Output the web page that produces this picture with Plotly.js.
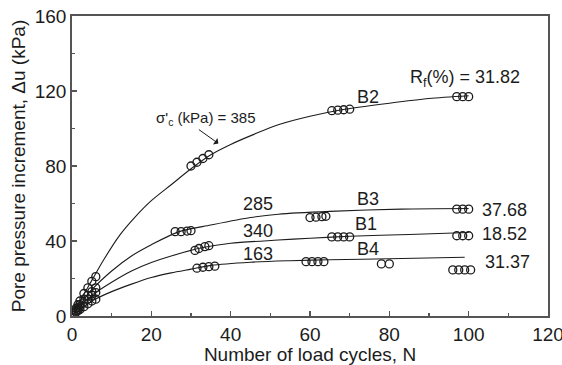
<!DOCTYPE html>
<html>
<head>
<meta charset="utf-8">
<script src="https://cdn.plot.ly/plotly-3.0.1.min.js"></script>
<style>
  html, body { margin: 0; padding: 0; background: #fff; }
  #chart { width: 562px; height: 365px; }
</style>
</head>
<body>
<div id="chart"></div>
<script>
// Pore pressure build-up under cyclic loading, tests B1-B4.

// Measured points (number of cycles, pore pressure increment in kPa)
const b2PointsN  = [1, 1.5, 2, 3, 4, 5, 6, 30, 31.5, 33, 34.5, 65.5, 67, 68.5, 70, 97, 98.5, 100];
const b2PointsDu = [4, 6, 8, 12, 15, 18.5, 21, 80, 82, 84, 86, 109.5, 109.8, 110, 110.3, 117, 117, 117];
const b3PointsN  = [1, 1.5, 2, 3, 4, 5, 6, 26, 27.5, 29, 30, 60, 61.5, 63, 64, 97, 98.5, 100];
const b3PointsDu = [3, 4.5, 6, 9, 11, 13, 15, 45, 45, 45.3, 45.5, 52.5, 52.7, 53, 53.2, 57, 57, 57];
const b1PointsN  = [1, 1.5, 2, 3, 4, 5, 6, 31, 32, 33.5, 34.5, 65.5, 67, 68.5, 70, 97, 98.5, 100];
const b1PointsDu = [2.5, 3.5, 5, 7, 9, 11, 12.5, 35, 36, 37, 37.5, 42.2, 42.2, 42.2, 42.2, 42.8, 42.8, 42.8];
const b4PointsN  = [1, 1.5, 2, 3, 4, 5, 6, 31.5, 33, 34.5, 36, 59, 60.5, 62, 63.5, 78, 80, 96, 97.5, 99, 100.5];
const b4PointsDu = [2, 2.8, 3.5, 5, 6.5, 8, 9, 25.5, 26, 26.3, 26.6, 29, 29, 29, 29, 27.8, 27.8, 24.6, 24.6, 24.6, 24.6];

// Fitted trend curves
const b2CurveN  = [0.5, 2, 5, 8, 12, 16, 20, 25, 30, 35, 40, 46, 52, 60, 68, 80, 90, 100];
const b2CurveDu = [2, 8, 19, 30, 43, 53, 61.5, 70, 78.5, 86, 91.5, 97, 102, 106.5, 110, 113.5, 116, 117.5];
const b3CurveN  = [0.5, 2, 5, 10, 15, 20, 27, 35, 45, 52, 65, 83, 100];
const b3CurveDu = [1.5, 6, 14, 24, 32, 38, 45, 48.5, 52.5, 54.3, 55.8, 57, 57.3];
const b1CurveN  = [0.5, 2, 5, 10, 15, 20, 25, 33, 40, 52, 60, 70, 85, 100];
const b1CurveDu = [1.2, 5, 11, 18, 24, 28.5, 32, 36.5, 38.8, 40.5, 41.5, 42.5, 43.5, 44.5];
const b4CurveN  = [0.5, 2, 5, 10, 15, 20, 25, 30, 35, 45, 55, 65, 80, 99];
const b4CurveDu = [1, 3.5, 8, 13, 17, 20.5, 23, 25, 27, 28.7, 29.5, 30, 30.5, 31.3];

// Tick labels
const xTicks = [0, 20, 40, 60, 80, 100, 120];
const yTicks = [0, 40, 80, 120, 160];

// Curve labels: confining stress, test id, failure ratio
const testIds      = ['B2', 'B3', 'B1', 'B4'];
const idPosN       = [74.5, 74.5, 74, 74.5];
const idPosDu      = [116.6, 62.6, 49.2, 35.8];
const stressLabels = ['285', '340', '163'];
const stressPosN   = [47, 47, 47];
const stressPosDu  = [60, 45.5, 33];
const ratioLabels  = ['37.68', '18.52', '31.37'];
const ratioPosN    = [102.8, 102.8, 103.5];
const ratioPosDu   = [56.7, 43.9, 28.9];

const ink = '#1c1c1c';
const fontFam = '"Liberation Sans", Arial, sans-serif';

const curve = (x, y) => ({
  x, y, type: 'scatter', mode: 'lines',
  line: { color: ink, width: 1.1, shape: 'spline', smoothing: 0.8 },
  hoverinfo: 'skip', showlegend: false
});
const pts = (x, y) => ({
  x, y, type: 'scatter', mode: 'markers',
  marker: { symbol: 'circle-open', size: 8, color: ink, line: { width: 1.3, color: ink } },
  showlegend: false
});

const data = [
  curve(b2CurveN, b2CurveDu), curve(b3CurveN, b3CurveDu),
  curve(b1CurveN, b1CurveDu), curve(b4CurveN, b4CurveDu),
  pts(b2PointsN, b2PointsDu), pts(b3PointsN, b3PointsDu),
  pts(b1PointsN, b1PointsDu), pts(b4PointsN, b4PointsDu)
];

const txt = (text, x, y, anchor, size) => ({
  text, x, y, xref: 'x', yref: 'y', showarrow: false,
  xanchor: anchor || 'center', yanchor: 'middle',
  font: { family: fontFam, size: size || 18, color: ink }
});

const annotations = [];
testIds.forEach((t, i) => annotations.push(txt(t, idPosN[i], idPosDu[i])));
stressLabels.forEach((t, i) => annotations.push(txt(t, stressPosN[i], stressPosDu[i])));
ratioLabels.forEach((t, i) => annotations.push(txt(t, ratioPosN[i], ratioPosDu[i], 'left')));
annotations.push(txt('R<sub>f</sub>(%) = 31.82', 99, 126.7));
annotations.push(txt("σ'<sub>c</sub> (kPa) = 385", 33.8, 105.3, 'center', 15));
annotations.push({
  x: 36.9, y: 92, ax: 31.6, ay: 100, xref: 'x', yref: 'y', axref: 'x', ayref: 'y',
  text: '', showarrow: true, arrowhead: 1, arrowsize: 1.3, arrowwidth: 1, arrowcolor: ink
});

const axisCommon = {
  showline: true, mirror: true, linecolor: '#555', linewidth: 1.8,
  ticks: 'inside', ticklen: 5, tickwidth: 1.2, tickcolor: '#555',
  showgrid: false, zeroline: false, ticklabeloverflow: 'allow',
  tickfont: { family: fontFam, size: 19, color: ink }
};

const layout = {
  width: 562, height: 365,
  margin: { l: 72, r: 14, t: 16, b: 49 },
  paper_bgcolor: '#fff', plot_bgcolor: '#fff',
  xaxis: Object.assign({}, axisCommon, {
    range: [0, 120], tickmode: 'array', tickvals: xTicks, ticktext: xTicks.map(String),
    minor: { dtick: 10, ticks: 'inside', ticklen: 3, tickcolor: '#555' },
    title: { text: 'Number of load cycles, N', standoff: 2,
             font: { family: fontFam, size: 19, color: ink } }
  }),
  yaxis: Object.assign({}, axisCommon, {
    range: [0, 160], tickmode: 'array', tickvals: yTicks, ticktext: yTicks.map(String),
    minor: { dtick: 20, ticks: 'inside', ticklen: 3, tickcolor: '#555' },
    title: { text: 'Pore pressure increment, Δu (kPa)', standoff: 4,
             font: { family: fontFam, size: 19, color: ink } }
  }),
  annotations
};

Plotly.newPlot('chart', data, layout, { staticPlot: true, displayModeBar: false });
</script>
</body>
</html>
